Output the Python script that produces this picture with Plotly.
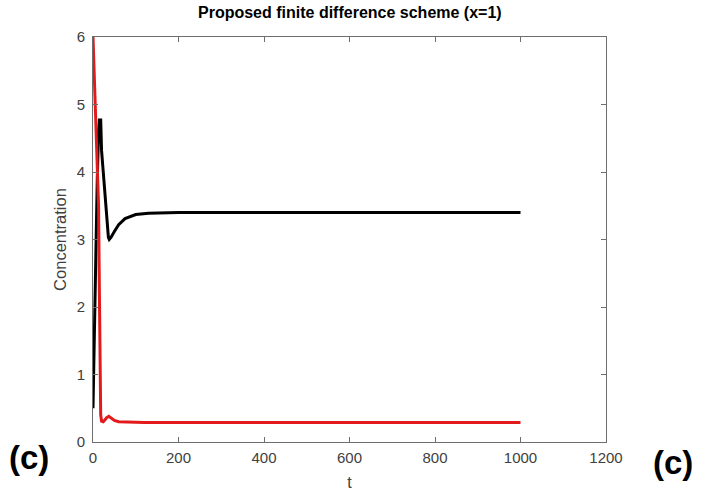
import plotly.graph_objects as go

# Data
t_black = [0, 3, 6, 10, 13, 15, 18, 19, 20, 24, 28, 32, 36, 38, 42, 50, 60, 75, 100, 130, 200, 1000]
c_black = [0.5, 1.65, 2.75, 3.9, 4.6, 4.77, 4.77, 4.6, 4.32, 4.0, 3.67, 3.35, 3.03, 3.0, 3.03, 3.12, 3.22, 3.31, 3.37, 3.39, 3.4, 3.4]

t_red = [0, 5, 10, 13, 15, 16.5, 18, 20, 24, 28, 32, 37, 42, 50, 60, 80, 120, 200, 1000]
c_red = [6, 5.05, 4.3, 3.5, 2.2, 0.9, 0.4, 0.31, 0.30, 0.33, 0.36, 0.38, 0.36, 0.32, 0.30, 0.295, 0.29, 0.29, 0.29]

x_ticks = [0, 200, 400, 600, 800, 1000, 1200]
y_ticks = [0, 1, 2, 3, 4, 5, 6]

title_text = "Proposed finite difference scheme (x=1)"
x_label = "t"
y_label = "Concentration"
panel_label = "(c)"

FONT = "Liberation Sans, Arial, sans-serif"
AXIS_COLOR = "#6e6e6e"
TICK_FONT_COLOR = "#404040"

fig = go.Figure()
fig.add_trace(go.Scatter(x=t_black, y=c_black, mode="lines",
                         line=dict(color="#000000", width=3), showlegend=False))
fig.add_trace(go.Scatter(x=t_red, y=c_red, mode="lines",
                         line=dict(color="#e31a1c", width=3), showlegend=False))

axis_common = dict(showgrid=False, zeroline=False, showline=True, linecolor=AXIS_COLOR,
                   linewidth=1, mirror="ticks", ticks="inside", ticklen=5,
                   tickcolor=AXIS_COLOR, tickwidth=1, automargin=False,
                   tickfont=dict(family=FONT, size=15, color=TICK_FONT_COLOR))

fig.update_xaxes(range=[0, 1200], tickvals=x_ticks, ticktext=[str(v) for v in x_ticks],
                 ticklabelstandoff=2,
                 title=dict(text=x_label, font=dict(family=FONT, size=16, color=TICK_FONT_COLOR), standoff=12),
                 **axis_common)
fig.update_yaxes(range=[0, 6], tickvals=y_ticks, ticktext=[str(v) for v in y_ticks],
                 ticklabelstandoff=4,
                 title=dict(text=y_label, font=dict(family=FONT, size=16.5, color=TICK_FONT_COLOR), standoff=5),
                 **axis_common)

fig.update_layout(
    width=709, height=491,
    margin=dict(l=93, r=103, t=37, b=49),
    paper_bgcolor="white", plot_bgcolor="white",
    font=dict(family=FONT),
    annotations=[
        dict(text="<b>" + title_text + "</b>", xref="paper", yref="paper", x=0.5, y=1,
             yanchor="middle", xanchor="center", yshift=25, showarrow=False,
             font=dict(family=FONT, size=16, color="#000000")),
        dict(text="<b>" + panel_label + "</b>", xref="paper", yref="paper",
             x=-93/513 + 29/513, y=-(458-442)/405.6, xanchor="center", yanchor="middle",
             showarrow=False, font=dict(family=FONT, size=33, color="#000000")),
        dict(text="<b>" + panel_label + "</b>", xref="paper", yref="paper",
             x=(673-93)/513, y=-(463-442)/405.6, xanchor="center", yanchor="middle",
             showarrow=False, font=dict(family=FONT, size=33, color="#000000")),
    ],
)

fig.write_html("out.html")
